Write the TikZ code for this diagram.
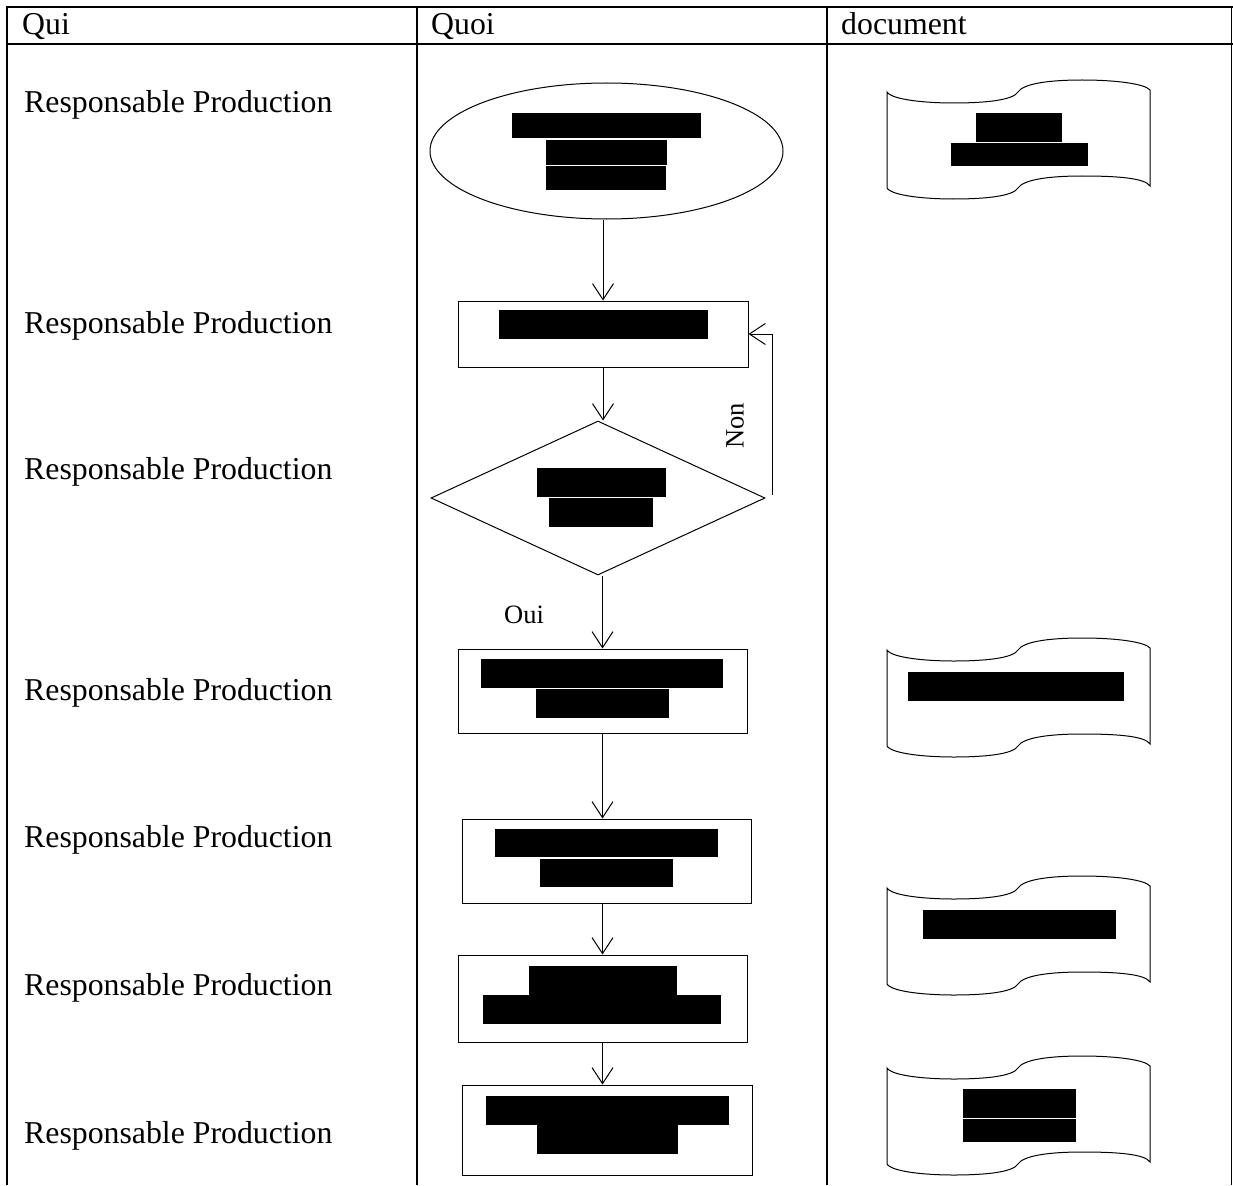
\documentclass[tikz,border=0pt]{standalone}
\usepackage{fontspec}
\setmainfont{Liberation Serif}
\usetikzlibrary{shapes.geometric,arrows.meta}

\begin{document}
\begin{tikzpicture}[x=1pt,y=-1pt,
  vline/.style={line width=1.5pt},
  hline/.style={line width=2.4pt},
  flow/.style={draw, line width=1pt, inner sep=0pt},
  arr/.style={line width=1pt, -{Straight Barb[length=16pt,width=21pt,line width=1pt]}},
  label/.style={anchor=base west, inner sep=0pt, font=\fontsize{31.8}{36}\selectfont},
  small/.style={inner sep=0pt, font=\fontsize{26.5}{30}\selectfont},
  redact/.style={fill=black},
  docwave/.pic={
    \draw[line width=1pt] (0,0) .. controls (5,8) and (40,11) .. (66,11)
      .. controls (100,11) and (126,8) .. (131,0)
      .. controls (136,-8) and (160,-12) .. (195,-12)
      .. controls (230,-12) and (258,-8) .. (263,-2)
      -- (263,94)
      .. controls (258,86) and (230,84) .. (195,84)
      .. controls (160,84) and (136,88) .. (131,96)
      .. controls (126,104) and (100,107) .. (66,107)
      .. controls (40,107) and (5,104) .. (0,96) -- cycle;
  }
]
\useasboundingbox (0,0) rectangle (1233,1185);

% table
\draw[hline] (6,7) -- (1233,7);
\draw[hline] (6,44) -- (1233,44);
\draw[vline] (7,6) -- (7,1185);
\draw[vline] (417,6) -- (417,1185);
\draw[vline] (827,6) -- (827,1185);
\draw[vline] (1231.5,6) -- (1231.5,1185);

% headers
\node[label] (hqui) at (22,35) {Qui};
\node[label] (hquoi) at (431,35) {Quoi};
\node[label] (hdoc) at (841,35) {document};

% row labels
\node[label] (l1) at (24,112.5) {Responsable Production};
\node[label] (l2) at (24,333.5) {Responsable Production};
\node[label] (l3) at (24,479.5) {Responsable Production};
\node[label] (l4) at (24,700.5) {Responsable Production};
\node[label] (l5) at (24,847.5) {Responsable Production};
\node[label] (l6) at (24,995.5) {Responsable Production};
\node[label] (l7) at (24,1143.5) {Responsable Production};

% flow nodes
\node[flow, ellipse, minimum width=353pt, minimum height=136pt] (e) at (606.5,151) {};
\node[flow, rectangle, minimum width=290pt, minimum height=66pt] (r1) at (603,334) {};
\node[flow, diamond, minimum width=334pt, minimum height=154pt] (d) at (598,498) {};
\node[flow, rectangle, minimum width=289pt, minimum height=84pt] (r2) at (602.5,691) {};
\node[flow, rectangle, minimum width=289pt, minimum height=84pt] (r3) at (606.5,861) {};
\node[flow, rectangle, minimum width=289pt, minimum height=87pt] (r4) at (602.5,998.5) {};
\node[flow, rectangle, minimum width=290pt, minimum height=90pt] (r5) at (607,1130) {};

% connectors
\draw[arr] (r1.north |- e.south) -- (r1.north);
\draw[arr] (r1.south) -- (r1.south |- d.north);
\draw[arr] (r2.north |- d.south) -- (r2.north);
\draw[arr] (r2.south) -- (r2.south |- r3.north);
\draw[arr] (r4.north |- r3.south) -- (r4.north);
\draw[arr] (r4.south) -- (r4.south |- r5.north);
\coordinate (nonc) at (772,495);
\draw[arr] (nonc) |- (r1.east);

\node[small, rotate=90] (non) at (735,426) {Non};
\node[small] (oui) at (524,615) {Oui};

% documents
\pic at (887,92) {docwave};
\pic at (887,650) {docwave};
\pic at (887,888) {docwave};
\pic at (887,1068) {docwave};

% redacted blocks: ellipse
\fill[redact] (512,113) rectangle (701,138);
\fill[redact] (546,140) rectangle (667,165);
\fill[redact] (546,166) rectangle (666,190);
% r1
\fill[redact] (499,310) rectangle (708,339);
% diamond
\fill[redact] (537,468) rectangle (666,497);
\fill[redact] (549,498) rectangle (653,527);
% r2
\fill[redact] (481,659) rectangle (723,688);
\fill[redact] (536,689) rectangle (669,718);
% r3
\fill[redact] (495,829) rectangle (718,857);
\fill[redact] (540,859) rectangle (673,887);
% r4
\fill[redact] (529,966) rectangle (677,995);
\fill[redact] (483,995) rectangle (721,1024);
% r5
\fill[redact] (486,1096) rectangle (729,1125);
\fill[redact] (537,1125) rectangle (678,1154);
% docs
\fill[redact] (976,113) rectangle (1062,142);
\fill[redact] (951,143) rectangle (1088,166);
\fill[redact] (908,672) rectangle (1124,701);
\fill[redact] (923,910) rectangle (1116,939);
\fill[redact] (963,1089) rectangle (1076,1118);
\fill[redact] (963,1119) rectangle (1076,1142);
\end{tikzpicture}
\end{document}
